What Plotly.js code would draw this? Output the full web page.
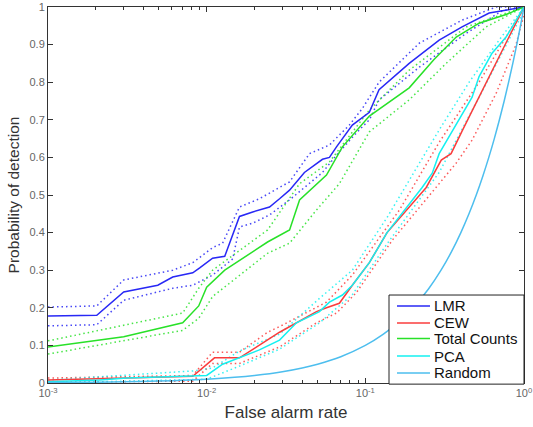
<!DOCTYPE html>
<html>
<head>
<meta charset="utf-8">
<script src="https://cdn.plot.ly/plotly-3.0.1.min.js"></script>
<style>
  html, body { margin: 0; padding: 0; background: #fff; }
  #chart { width: 533px; height: 427px; }
</style>
</head>
<body>
<div id="chart"></div>
<script>
// ---- Data ----
const lmrX = [0.001, 0.00203, 0.0030, 0.00492, 0.00611, 0.00817, 0.00904, 0.0109, 0.0130, 0.0161, 0.0195, 0.0249, 0.0288, 0.0333, 0.0413, 0.0537, 0.0594, 0.0658, 0.0828, 0.106, 0.122, 0.189, 0.292, 0.407, 0.603, 1.0];
const lmrY = [0.178, 0.18, 0.242, 0.26, 0.282, 0.293, 0.306, 0.332, 0.337, 0.443, 0.455, 0.468, 0.49, 0.513, 0.56, 0.595, 0.60, 0.628, 0.686, 0.72, 0.78, 0.85, 0.912, 0.947, 0.984, 1.0];
const lmrUpX = [0.001, 0.00203, 0.0030, 0.00611, 0.00817, 0.0109, 0.0126, 0.0161, 0.0215, 0.0333, 0.0445, 0.0594, 0.0793, 0.0957, 0.122, 0.219, 0.407, 0.667, 1.0];
const lmrUpY = [0.202, 0.205, 0.274, 0.30, 0.32, 0.36, 0.372, 0.468, 0.49, 0.535, 0.61, 0.633, 0.686, 0.73, 0.80, 0.904, 0.965, 1.0, 1.0];
const lmrLoX = [0.001, 0.00203, 0.0030, 0.00611, 0.00817, 0.0109, 0.0146, 0.0161, 0.0195, 0.0249, 0.0333, 0.0537, 0.0658, 0.0877, 0.106, 0.122, 0.219, 0.432, 0.728, 1.0];
const lmrLoY = [0.152, 0.155, 0.22, 0.252, 0.26, 0.287, 0.33, 0.415, 0.425, 0.447, 0.487, 0.56, 0.606, 0.665, 0.70, 0.753, 0.84, 0.93, 0.99, 1.0];

const cewX = [0.001, 0.00817, 0.0112, 0.0161, 0.0288, 0.0492, 0.0569, 0.0686, 0.0828, 0.106, 0.137, 0.242, 0.301, 0.347, 0.407, 0.577, 0.771, 1.0];
const cewY = [0.008, 0.018, 0.067, 0.067, 0.135, 0.19, 0.20, 0.212, 0.26, 0.32, 0.40, 0.52, 0.593, 0.61, 0.67, 0.80, 0.905, 1.0];
const cewUpX = [0.001, 0.00817, 0.0109, 0.0161, 0.0242, 0.0288, 0.0569, 0.0828, 0.164, 0.292, 0.521, 1.0];
const cewUpY = [0.013, 0.02, 0.082, 0.082, 0.135, 0.15, 0.215, 0.287, 0.46, 0.64, 0.80, 1.0];
const cewLoX = [0.001, 0.00817, 0.0109, 0.0161, 0.0288, 0.0492, 0.0658, 0.0877, 0.148, 0.374, 0.471, 0.667, 0.891, 1.0];
const cewLoY = [0.002, 0.005, 0.052, 0.052, 0.096, 0.16, 0.186, 0.24, 0.38, 0.585, 0.646, 0.77, 0.90, 0.98];

const tcX = [0.001, 0.0030, 0.00706, 0.00891, 0.01, 0.0130, 0.0242, 0.0333, 0.0385, 0.0569, 0.0717, 0.106, 0.189, 0.27, 0.374, 0.521, 0.771, 1.0];
const tcY = [0.096, 0.123, 0.16, 0.205, 0.255, 0.30, 0.375, 0.407, 0.487, 0.553, 0.628, 0.71, 0.785, 0.86, 0.92, 0.957, 0.98, 1.0];
const tcUpX = [0.001, 0.00706, 0.00891, 0.0109, 0.0242, 0.0385, 0.0594, 0.106, 0.189, 0.432, 1.0];
const tcUpY = [0.112, 0.186, 0.252, 0.30, 0.407, 0.53, 0.588, 0.726, 0.832, 0.947, 1.0];
const tcLoX = [0.001, 0.00706, 0.00891, 0.0109, 0.0242, 0.0333, 0.0492, 0.0686, 0.106, 0.189, 0.323, 0.577, 1.0];
const tcLoY = [0.077, 0.14, 0.172, 0.23, 0.345, 0.372, 0.46, 0.53, 0.668, 0.753, 0.85, 0.947, 1.0];

const pcaX = [0.001, 0.00212, 0.00314, 0.00817, 0.01, 0.0126, 0.0161, 0.0215, 0.0288, 0.0368, 0.0514, 0.0594, 0.0717, 0.0828, 0.106, 0.137, 0.228, 0.264, 0.292, 0.337, 0.39, 0.471, 0.521, 0.629, 0.771, 0.891, 1.0];
const pcaY = [0.003, 0.008, 0.013, 0.02, 0.02, 0.05, 0.067, 0.088, 0.114, 0.16, 0.19, 0.215, 0.234, 0.26, 0.32, 0.40, 0.52, 0.558, 0.61, 0.655, 0.70, 0.76, 0.815, 0.877, 0.92, 0.965, 1.0];
const pcaUpX = [0.001, 0.00817, 0.0109, 0.0161, 0.0288, 0.0514, 0.0828, 0.137, 0.292, 0.451, 0.697, 1.0];
const pcaUpY = [0.008, 0.032, 0.04, 0.085, 0.13, 0.225, 0.30, 0.44, 0.673, 0.80, 0.912, 1.0];
const pcaLoX = [0.001, 0.00817, 0.01, 0.0161, 0.0288, 0.0514, 0.0828, 0.137, 0.292, 0.521, 0.771, 1.0];
const pcaLoY = [0.0, 0.008, 0.01, 0.045, 0.09, 0.16, 0.235, 0.37, 0.56, 0.76, 0.90, 0.99];

const randX = [0.001, 0.002, 0.003, 0.005, 0.007, 0.01, 0.015, 0.02, 0.03, 0.04, 0.05, 0.07, 0.1, 0.13, 0.16, 0.2, 0.25, 0.3, 0.35, 0.4, 0.45, 0.5, 0.55, 0.6, 0.65, 0.7, 0.75, 0.8, 0.85, 0.9, 0.95, 1.0];
const randY = [0.001, 0.002, 0.003, 0.005, 0.007, 0.01, 0.015, 0.02, 0.03, 0.04, 0.05, 0.07, 0.1, 0.13, 0.16, 0.2, 0.25, 0.3, 0.35, 0.4, 0.45, 0.5, 0.55, 0.6, 0.65, 0.7, 0.75, 0.8, 0.85, 0.9, 0.95, 1.0];

const seriesNames = ['LMR', 'CEW', 'Total Counts', 'PCA', 'Random'];
const xTickVals = [0.001, 0.01, 0.1, 1];
const xTickText = ['10<sup>-3</sup>', '10<sup>-2</sup>', '10<sup>-1</sup>', '10<sup>0</sup>'];
const yTickVals = [0, 0.1, 0.2, 0.3, 0.4, 0.5, 0.6, 0.7, 0.8, 0.9, 1];
const yTickText = ['0', '0.1', '0.2', '0.3', '0.4', '0.5', '0.6', '0.7', '0.8', '0.9', '1'];

// ---- Styling ----
const colBlue = 'rgb(40,40,245)';
const colRed = 'rgb(250,60,60)';
const colGreen = 'rgb(40,225,40)';
const colCyan = 'rgb(20,240,240)';
const colRand = 'rgb(77,190,238)';
const seriesColors = [colBlue, colRed, colGreen, colCyan, colRand];

function solid(x, y, name, color, shape) {
  return { x: x, y: y, name: name, type: 'scatter', mode: 'lines',
           line: { color: color, width: 1.5, shape: shape || 'linear' }, showlegend: false };
}
function dotted(x, y, color) {
  return { x: x, y: y, type: 'scatter', mode: 'lines', hoverinfo: 'skip',
           line: { color: color, width: 1.5, dash: '1.5px,3px' }, showlegend: false, opacity: 0.85 };
}

const traces = [
  dotted(lmrUpX, lmrUpY, colBlue), dotted(lmrLoX, lmrLoY, colBlue),
  dotted(cewUpX, cewUpY, colRed), dotted(cewLoX, cewLoY, colRed),
  dotted(tcUpX, tcUpY, colGreen), dotted(tcLoX, tcLoY, colGreen),
  dotted(pcaUpX, pcaUpY, colCyan), dotted(pcaLoX, pcaLoY, colCyan),
  solid(lmrX, lmrY, seriesNames[0], colBlue),
  solid(cewX, cewY, seriesNames[1], colRed),
  solid(tcX, tcY, seriesNames[2], colGreen),
  solid(pcaX, pcaY, seriesNames[3], colCyan),
  solid(randX, randY, seriesNames[4], colRand, 'spline')
];

// minor tick positions: digits 2..9 of each decade
const minorVals = [];
[0.001, 0.01, 0.1].forEach(function (d) { for (let k = 2; k <= 9; k++) minorVals.push(d * k); });

const fontFam = '"Liberation Sans", Arial, Helvetica, sans-serif';

// Custom legend box (paper coords of the plot area)
const legX0 = 0.7164, legX1 = 1.0, legY0 = -0.003, legY1 = 0.234;
const legRowY = [0.2048, 0.1596, 0.1184, 0.0718, 0.0266];
const legLineX0 = 0.7332, legLineX1 = 0.8025, legTextX = 0.806;

const shapes = [{
  type: 'rect', xref: 'paper', yref: 'paper', x0: legX0, x1: legX1, y0: legY0, y1: legY1,
  fillcolor: '#fff', line: { color: '#222', width: 1 }, layer: 'above'
}];
const annotations = [];
seriesNames.forEach(function (n, i) {
  shapes.push({ type: 'line', xref: 'paper', yref: 'paper', x0: legLineX0, x1: legLineX1,
                y0: legRowY[i], y1: legRowY[i], line: { color: seriesColors[i], width: 1.5 }, layer: 'above' });
  annotations.push({ xref: 'paper', yref: 'paper', x: legTextX, y: legRowY[i], text: n,
                     showarrow: false, xanchor: 'left', yanchor: 'middle',
                     font: { family: fontFam, size: 15, color: '#111' } });
});

const layout = {
  width: 533, height: 427,
  margin: { l: 48, r: 9, t: 7, b: 44 },
  paper_bgcolor: '#fff', plot_bgcolor: '#fff',
  font: { family: fontFam, color: '#333' },
  showlegend: false,
  shapes: shapes,
  annotations: annotations,
  xaxis: {
    type: 'log', range: [-3, 0],
    tickmode: 'array', tickvals: xTickVals, ticktext: xTickText,
    ticks: 'inside', ticklen: 5, tickcolor: '#333',
    minor: { tickmode: 'array', tickvals: minorVals, ticks: 'inside', ticklen: 3, tickcolor: '#333', showgrid: false },
    showline: true, linecolor: '#333', linewidth: 1, mirror: 'ticks',
    showgrid: false, zeroline: false,
    tickfont: { family: fontFam, size: 11, color: '#666' },
    title: { text: 'False alarm rate', font: { family: fontFam, size: 17, color: '#333' }, standoff: 7 }
  },
  yaxis: {
    range: [0, 1], tickmode: 'array', tickvals: yTickVals, ticktext: yTickText,
    ticks: 'inside', ticklen: 5, tickcolor: '#333',
    showline: true, linecolor: '#333', linewidth: 1, mirror: 'ticks',
    showgrid: false, zeroline: false,
    tickfont: { family: fontFam, size: 11, color: '#666' },
    title: { text: 'Probability of detection', font: { family: fontFam, size: 15.5, color: '#333' }, standoff: 6 }
  }
};

Plotly.newPlot('chart', traces, layout, { displayModeBar: false, staticPlot: true });
</script>
</body>
</html>
